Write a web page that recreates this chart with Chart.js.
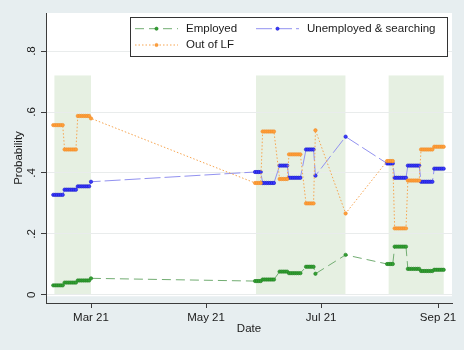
<!DOCTYPE html>
<html><head><meta charset="utf-8">
<script src="https://cdn.jsdelivr.net/npm/chart.js@4/dist/chart.umd.min.js"></script>
<style>html,body{margin:0;padding:0;background:#e7eef0;} #wrap{width:464px;height:350px;}</style>
</head><body><div id="wrap"><canvas id="c" width="464" height="350"></canvas></div>
<script>
// x values: days since 1 March 2021
const days = [
  -20,-19,-18,-17,-16,-15,
  -14,-13,-12,-11,-10,-9,-8,
  -7,-6,-5,-4,-3,-2,-1,
  0,
  87,88,89,90,
  91,92,93,94,95,96,97,
  100,101,102,103,104,
  105,106,107,108,109,110,111,
  114,115,116,117,118,
  119,
  135,
  157,158,159,160,
  161,162,163,164,165,166,167,
  168,169,170,171,172,173,174,
  175,176,177,178,179,180,181,
  182,183,184,185,186,187
];
const employed = [
  .031,.031,.031,.031,.031,.031,
  .040,.040,.040,.040,.040,.040,.040,
  .047,.047,.047,.047,.047,.047,.047,
  .054,
  .045,.045,.045,.045,
  .050,.050,.050,.050,.050,.050,.050,
  .076,.076,.076,.076,.076,
  .071,.071,.071,.071,.071,.071,.071,
  .092,.092,.092,.092,.092,
  .069,
  .131,
  .101,.101,.101,.101,
  .158,.158,.158,.158,.158,.158,.158,
  .085,.085,.085,.085,.085,.085,.085,
  .078,.078,.078,.078,.078,.078,.078,
  .082,.082,.082,.082,.082,.082
];
const unemployed = [
  .328,.328,.328,.328,.328,.328,
  .345,.345,.345,.345,.345,.345,.345,
  .356,.356,.356,.356,.356,.356,.356,
  .371,
  .403,.403,.403,.403,
  .367,.367,.367,.367,.367,.367,.367,
  .424,.424,.424,.424,.424,
  .384,.384,.384,.384,.384,.384,.384,
  .477,.477,.477,.477,.477,
  .391,
  .519,
  .431,.431,.431,.431,
  .384,.384,.384,.384,.384,.384,.384,
  .424,.424,.424,.424,.424,.424,.424,
  .371,.371,.371,.371,.371,.371,.371,
  .414,.414,.414,.414,.414,.414
];
const outOfLF = [
  .557,.557,.557,.557,.557,.557,
  .477,.477,.477,.477,.477,.477,.477,
  .587,.587,.587,.587,.587,.587,.587,
  .579,
  .367,.367,.367,.367,
  .536,.536,.536,.536,.536,.536,.536,
  .380,.380,.380,.380,.380,
  .461,.461,.461,.461,.461,.461,.461,
  .300,.300,.300,.300,.300,
  .540,
  .267,
  .439,.439,.439,.439,
  .218,.218,.218,.218,.218,.218,.218,
  .375,.375,.375,.375,.375,.375,.375,
  .477,.477,.477,.477,.477,.477,.477,
  .486,.486,.486,.486,.486,.486
];
const seriesNames = ['Employed', 'Unemployed & searching', 'Out of LF'];
const xTickValues = [0, 61, 122, 184];
const xTickLabels = ['Mar 21', 'May 21', 'Jul 21', 'Sep 21'];
const yTickValues = [0, 0.2, 0.4, 0.6, 0.8];
const yTickLabels = ['0', '.2', '.4', '.6', '.8'];
const shadeStart = [-19.4, 87.5, 157.8];
const shadeEnd = [0, 134.9, 187];
const shadeTop = 0.72;
const xTitle = 'Date';
const yTitle = 'Probability';

const FONT = '"Liberation Sans", Arial, Helvetica, sans-serif';
const TXT = '#1a1a1a';
const AXIS = '#3c3c3c';
Chart.defaults.font.family = FONT;
Chart.defaults.font.size = 11.5;
Chart.defaults.color = TXT;

const pts = arr => days.map((d, i) => ({x: d, y: arr[i]}));

const backdrop = {
  id: 'backdrop',
  beforeDraw(chart) {
    const {ctx, chartArea: a, scales: {x, y}} = chart;
    ctx.save();
    ctx.fillStyle = '#e7eef0';
    ctx.fillRect(0, 0, chart.width, chart.height);
    const bottom = y.getPixelForValue(0) + 1.5;
    ctx.fillStyle = '#ffffff';
    ctx.fillRect(a.left, a.top, a.right - a.left, bottom - a.top);
    ctx.fillStyle = '#e6f0e2';
    const yt = y.getPixelForValue(shadeTop), yb = y.getPixelForValue(0);
    for (let i = 0; i < shadeStart.length; i++) {
      const x0 = x.getPixelForValue(shadeStart[i]), x1 = x.getPixelForValue(shadeEnd[i]);
      ctx.fillRect(x0, yt, x1 - x0, yb - yt);
    }
    ctx.restore();
  }
};

const stataLegend = {
  id: 'stataLegend',
  afterDraw(chart) {
    const ctx = chart.ctx;
    ctx.save();
    const bx = 130.5, by = 17.5, bw = 317, bh = 39;
    ctx.fillStyle = '#ffffff';
    ctx.fillRect(bx, by, bw, bh);
    ctx.strokeStyle = '#333333';
    ctx.lineWidth = 1;
    ctx.strokeRect(bx, by, bw, bh);
    const slots = [[135, 28.7], [256, 28.7], [135, 45]];
    chart.data.datasets.forEach((ds, i) => {
      const [sx, sy] = slots[i];
      ctx.strokeStyle = ds.borderColor;
      ctx.lineWidth = 1;
      ctx.setLineDash(ds.borderDash || []);
      ctx.beginPath();
      ctx.moveTo(sx, sy);
      ctx.lineTo(sx + 43, sy);
      ctx.stroke();
      ctx.setLineDash([]);
      ctx.beginPath();
      ctx.arc(sx + 21.5, sy, 1.6, 0, Math.PI * 2);
      ctx.fillStyle = ds.pointBackgroundColor;
      ctx.fill();
      ctx.strokeStyle = ds.pointBorderColor;
      ctx.lineWidth = 0.6;
      ctx.stroke();
      ctx.fillStyle = TXT;
      ctx.font = '11.5px ' + FONT;
      ctx.textBaseline = 'middle';
      ctx.textAlign = 'left';
      ctx.fillText(ds.label, sx + 51, sy);
    });
    ctx.restore();
  }
};

new Chart(document.getElementById('c'), {
  type: 'line',
  data: {
    datasets: [
      {label: seriesNames[0], data: pts(employed), order: 3,
       borderColor: '#72ad72', borderWidth: 1, borderDash: [9, 5],
       pointRadius: 1.7, pointBackgroundColor: '#34a034', pointBorderColor: '#1f7f1f', pointBorderWidth: 0.6},
      {label: seriesNames[1], data: pts(unemployed), order: 2,
       borderColor: '#9292f0', borderWidth: 1, borderDash: [16, 4],
       pointRadius: 1.7, pointBackgroundColor: '#3a3aff', pointBorderColor: '#1818c8', pointBorderWidth: 0.6},
      {label: seriesNames[2], data: pts(outOfLF), order: 1,
       borderColor: '#f7a550', borderWidth: 1, borderDash: [1.5, 2],
       pointRadius: 1.7, pointBackgroundColor: '#ff9f3a', pointBorderColor: '#f08c28', pointBorderWidth: 0.6}
    ]
  },
  options: {
    responsive: false,
    animation: false,
    devicePixelRatio: 1,
    layout: {padding: {left: 0, right: 12, top: 13, bottom: 0}},
    plugins: {legend: {display: false}, tooltip: {enabled: false}},
    elements: {line: {tension: 0}},
    scales: {
      x: {
        type: 'linear', min: -23.86, max: 191.4,
        afterBuildTicks: s => { s.ticks = xTickValues.map(v => ({value: v})); },
        afterFit: s => { s.height = 47; },
        ticks: {callback: (v, i) => xTickLabels[i], autoSkip: false, maxRotation: 0, minRotation: 0, padding: 3, color: TXT},
        grid: {drawOnChartArea: false, tickColor: AXIS, tickLength: 5},
        border: {color: AXIS, width: 1},
        title: {display: true, text: xTitle, color: TXT, padding: {top: 0, bottom: 14.4}}
      },
      y: {
        type: 'linear', min: -0.027, max: 0.925,
        afterBuildTicks: s => { s.ticks = yTickValues.map(v => ({value: v})); },
        afterFit: s => { s.width = 46; },
        ticks: {callback: (v, i) => yTickLabels[i], minRotation: 90, maxRotation: 90, crossAlign: 'center', padding: 4, color: TXT},
        grid: {color: '#e9ecec', tickColor: AXIS, tickLength: 5},
        border: {color: AXIS, width: 1},
        title: {display: true, text: yTitle, color: TXT, padding: {top: 12, bottom: 0}}
      }
    }
  },
  plugins: [backdrop, stataLegend]
});
</script>
</body></html>
